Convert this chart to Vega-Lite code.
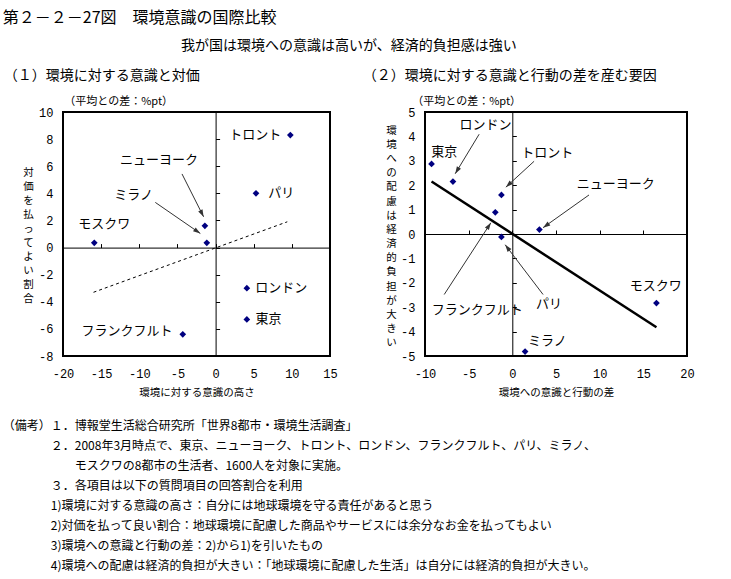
{
  "$schema": "https://vega.github.io/schema/vega-lite/v6.json",
  "padding": {"left": 2, "top": 10, "right": 5, "bottom": 2},
  "title": {"text": "第２－２－27図　環境意識の国際比較", "anchor": "start", "frame": "bounds", "fontSize": 16, "offset": 13},
  "datasets": {
    "left": [
      {"city": "トロント", "awareness": 9.8, "pay": 8.3},
      {"city": "パリ", "awareness": 5.3, "pay": 4.0},
      {"city": "ニューヨーク", "awareness": -1.4, "pay": 1.6},
      {"city": "ミラノ", "awareness": -1.15, "pay": 0.35},
      {"city": "モスクワ", "awareness": -15.9, "pay": 0.35},
      {"city": "ロンドン", "awareness": 4.1, "pay": -3.0},
      {"city": "東京", "awareness": 4.1, "pay": -5.3},
      {"city": "フランクフルト", "awareness": -4.3, "pay": -6.4}
    ],
    "leftLabels": [
      {"city": "トロント", "lx": 5.2, "ly": 8.3},
      {"city": "パリ", "lx": 8.6, "ly": 4.0},
      {"city": "ニューヨーク", "lx": -7.4, "ly": 6.47},
      {"city": "ミラノ", "lx": -10.75, "ly": 3.87},
      {"city": "モスクワ", "lx": -14.6, "ly": 1.73},
      {"city": "ロンドン", "lx": 8.6, "ly": -3.0},
      {"city": "東京", "lx": 6.95, "ly": -5.3},
      {"city": "フランクフルト", "lx": -11.6, "ly": -6.18}
    ],
    "leftArrows": [
      {"city": "ニューヨーク", "x1": -4.4, "y1": 5.43, "x2": -1.57, "y2": 2.27},
      {"city": "ミラノ", "x1": -7.9, "y1": 3.33, "x2": -2.0, "y2": 1.04}
    ],
    "leftFit": [
      {"awareness": -16.0, "pay": -3.3},
      {"awareness": 9.4, "pay": 1.9}
    ],
    "right": [
      {"city": "東京", "gap": -9.25, "burden": 2.87},
      {"city": "ロンドン", "gap": -6.8, "burden": 2.15},
      {"city": "トロント", "gap": -1.25, "burden": 1.6},
      {"city": "フランクフルト", "gap": -1.95, "burden": 0.89},
      {"city": "パリ", "gap": -1.25, "burden": -0.12},
      {"city": "ニューヨーク", "gap": 3.1, "burden": 0.18},
      {"city": "モスクワ", "gap": 16.5, "burden": -2.83},
      {"city": "ミラノ", "gap": 1.46, "burden": -4.82}
    ],
    "rightLabels": [
      {"city": "ロンドン", "lx": -3.07, "ly": 4.48},
      {"city": "東京", "lx": -7.8, "ly": 3.37},
      {"city": "トロント", "lx": 4.0, "ly": 3.34},
      {"city": "ニューヨーク", "lx": 11.83, "ly": 2.05},
      {"city": "モスクワ", "lx": 16.43, "ly": -2.12},
      {"city": "フランクフルト", "lx": -4.02, "ly": -3.13},
      {"city": "パリ", "lx": 4.2, "ly": -2.85},
      {"city": "ミラノ", "lx": 4.0, "ly": -4.38}
    ],
    "rightArrows": [
      {"city": "ロンドン", "x1": -3.8, "y1": 4.09, "x2": -6.54, "y2": 2.47},
      {"city": "トロント", "x1": 2.49, "y1": 2.98, "x2": -0.74, "y2": 1.92},
      {"city": "ニューヨーク", "x1": 8.78, "y1": 1.6, "x2": 3.52, "y2": 0.26},
      {"city": "フランクフルト", "x1": -7.8, "y1": -2.48, "x2": -2.46, "y2": 0.46},
      {"city": "パリ", "x1": 3.52, "y1": -2.48, "x2": -0.82, "y2": -0.44}
    ],
    "rightFit": [
      {"gap": -9.25, "burden": 2.15},
      {"gap": 16.5, "burden": -3.82}
    ]
  },
  "vconcat": [
    {
      "title": {
        "text": [
          "（備考）１．博報堂生活総合研究所「世界8都市・環境生活調査」",
          "\u200b　　　　２．2008年3月時点で、東京、ニューヨーク、トロント、ロンドン、フランクフルト、パリ、ミラノ、",
          "\u200b　　　　　　モスクワの8都市の生活者、1600人を対象に実施。",
          "\u200b　　　　３．各項目は以下の質問項目の回答割合を利用",
          "\u200b　　　　1)環境に対する意識の高さ：自分には地球環境を守る責任があると思う",
          "\u200b　　　　2)対価を払って良い割合：地球環境に配慮した商品やサービスには余分なお金を払ってもよい",
          "\u200b　　　　3)環境への意識と行動の差：2)から1)を引いたもの",
          "\u200b　　　　4)環境への配慮は経済的負担が大きい：「地球環境に配慮した生活」は自分には経済的負担が大きい。"
        ],
        "orient": "bottom", "anchor": "start", "frame": "bounds", "fontSize": 12, "lineHeight": 20, "offset": 22
      },
      "vconcat": [
        {
          "title": {"text": "我が国は環境への意識は高いが、経済的負担感は強い", "anchor": "middle", "fontSize": 14, "offset": 15},
          "spacing": 22,
          "hconcat": [
            {
              "width": 267, "height": 244,
              "title": {"text": "（１）環境に対する意識と対価", "subtitle": "\u200b　　　　　　（平均との差：%pt）", "anchor": "start", "frame": "bounds", "dx": -19, "fontSize": 14, "subtitleFontSize": 11, "subtitlePadding": 13, "offset": -1},
              "resolve": {"axis": {"x": "independent", "y": "independent"}},
              "layer": [
                {
                  "data": {"name": "leftFit"},
                  "mark": {"type": "line", "color": "black", "strokeWidth": 1, "strokeDash": [3, 3]},
                  "encoding": {
                    "x": {"field": "awareness", "type": "quantitative", "scale": {"domain": [-20, 15], "nice": false, "zero": false},
                      "axis": {"orient": "top", "offset": -135.6, "domain": true, "domainColor": "black", "domainWidth": 1, "ticks": true, "tickSize": 4, "tickColor": "black", "labels": false, "title": null, "values": [-20, -15, -10, -5, 0, 5, 10, 15]}},
                    "y": {"field": "pay", "type": "quantitative", "scale": {"domain": [-8, 10], "nice": false, "zero": false},
                      "axis": {"orient": "right", "offset": -114.4, "domain": true, "domainColor": "black", "domainWidth": 1, "ticks": true, "tickSize": 4, "tickColor": "black", "labels": false, "title": null, "values": [-8, -6, -4, -2, 0, 2, 4, 6, 8, 10]}}
                  }
                },
                {
                  "data": {"name": "leftArrows"},
                  "mark": {"type": "rule", "color": "#333333", "strokeWidth": 1},
                  "encoding": {
                    "x": {"field": "x1", "type": "quantitative", "scale": {"domain": [-20, 15], "nice": false, "zero": false}, "axis": null},
                    "y": {"field": "y1", "type": "quantitative", "scale": {"domain": [-8, 10], "nice": false, "zero": false}, "axis": null},
                    "x2": {"field": "x2"},
                    "y2": {"field": "y2"}
                  }
                },
                {
                  "data": {"name": "leftArrows"},
                  "transform": [{"calculate": "atan2((datum.x2 - datum.x1) * 7.629, (datum.y2 - datum.y1) * 13.556) * 180 / PI", "as": "ang"}],
                  "mark": {"type": "point", "shape": "M0,0L0.6,1.8L-0.6,1.8Z", "filled": true, "color": "#333333", "size": 64, "opacity": 1},
                  "encoding": {
                    "x": {"field": "x2", "type": "quantitative", "scale": {"domain": [-20, 15], "nice": false, "zero": false}, "axis": null},
                    "y": {"field": "y2", "type": "quantitative", "scale": {"domain": [-8, 10], "nice": false, "zero": false}, "axis": null},
                    "angle": {"field": "ang", "type": "quantitative", "scale": null}
                  }
                },
                {
                  "data": {"name": "left"},
                  "mark": {"type": "point", "shape": "diamond", "filled": true, "color": "#000080", "size": 45, "opacity": 1},
                  "encoding": {
                    "x": {"field": "awareness", "type": "quantitative", "scale": {"domain": [-20, 15], "nice": false, "zero": false},
                      "axis": {"orient": "bottom", "title": "環境に対する意識の高さ", "values": [-20, -15, -10, -5, 0, 5, 10, 15], "labelExpr": "'' + datum.value", "labelPadding": 12, "titlePadding": 8}},
                    "y": {"field": "pay", "type": "quantitative", "scale": {"domain": [-8, 10], "nice": false, "zero": false},
                      "axis": {"orient": "left", "title": ["対", "価", "を", "払", "っ", "て", "よ", "い", "割", "合"], "titleAngle": 0, "titleX": -35, "titleY": 60, "titleAlign": "center", "titleBaseline": "middle", "titleLineHeight": 14, "values": [-8, -6, -4, -2, 0, 2, 4, 6, 8, 10], "labelExpr": "'' + datum.value"}},
                    "tooltip": {"field": "city"}
                  }
                },
                {
                  "data": {"name": "leftLabels"},
                  "mark": {"type": "text", "fontSize": 13, "align": "center", "baseline": "middle", "color": "black"},
                  "encoding": {
                    "x": {"field": "lx", "type": "quantitative", "scale": {"domain": [-20, 15], "nice": false, "zero": false}, "axis": null},
                    "y": {"field": "ly", "type": "quantitative", "scale": {"domain": [-8, 10], "nice": false, "zero": false}, "axis": null},
                    "text": {"field": "city"}
                  }
                }
              ]
            },
            {
              "width": 262, "height": 244,
              "title": {"text": "（２）環境に対する意識と行動の差を産む要因", "subtitle": "\u200b　　　　　（平均との差：%pt）", "anchor": "start", "frame": "bounds", "dx": -23, "fontSize": 14, "subtitleFontSize": 11, "subtitlePadding": 13, "offset": -1},
              "resolve": {"axis": {"x": "independent", "y": "independent"}},
              "layer": [
                {
                  "data": {"name": "rightFit"},
                  "mark": {"type": "line", "color": "black", "strokeWidth": 2.5},
                  "encoding": {
                    "x": {"field": "gap", "type": "quantitative", "scale": {"domain": [-10, 20], "nice": false, "zero": false},
                      "axis": {"orient": "top", "offset": -122, "domain": true, "domainColor": "black", "domainWidth": 1, "ticks": true, "tickSize": 4, "tickColor": "black", "labels": false, "title": null, "values": [-10, -5, 0, 5, 10, 15, 20]}},
                    "y": {"field": "burden", "type": "quantitative", "scale": {"domain": [-5, 5], "nice": false, "zero": false},
                      "axis": {"orient": "right", "offset": -174.7, "domain": true, "domainColor": "black", "domainWidth": 1, "ticks": true, "tickSize": 4, "tickColor": "black", "labels": false, "title": null, "values": [-5, -4, -3, -2, -1, 0, 1, 2, 3, 4, 5]}}
                  }
                },
                {
                  "data": {"name": "rightArrows"},
                  "mark": {"type": "rule", "color": "#333333", "strokeWidth": 1},
                  "encoding": {
                    "x": {"field": "x1", "type": "quantitative", "scale": {"domain": [-10, 20], "nice": false, "zero": false}, "axis": null},
                    "y": {"field": "y1", "type": "quantitative", "scale": {"domain": [-5, 5], "nice": false, "zero": false}, "axis": null},
                    "x2": {"field": "x2"},
                    "y2": {"field": "y2"}
                  }
                },
                {
                  "data": {"name": "rightArrows"},
                  "transform": [{"calculate": "atan2((datum.x2 - datum.x1) * 8.733, (datum.y2 - datum.y1) * 24.4) * 180 / PI", "as": "ang"}],
                  "mark": {"type": "point", "shape": "M0,0L0.6,1.8L-0.6,1.8Z", "filled": true, "color": "#333333", "size": 64, "opacity": 1},
                  "encoding": {
                    "x": {"field": "x2", "type": "quantitative", "scale": {"domain": [-10, 20], "nice": false, "zero": false}, "axis": null},
                    "y": {"field": "y2", "type": "quantitative", "scale": {"domain": [-5, 5], "nice": false, "zero": false}, "axis": null},
                    "angle": {"field": "ang", "type": "quantitative", "scale": null}
                  }
                },
                {
                  "data": {"name": "right"},
                  "mark": {"type": "point", "shape": "diamond", "filled": true, "color": "#000080", "size": 45, "opacity": 1},
                  "encoding": {
                    "x": {"field": "gap", "type": "quantitative", "scale": {"domain": [-10, 20], "nice": false, "zero": false},
                      "axis": {"orient": "bottom", "title": "環境への意識と行動の差", "values": [-10, -5, 0, 5, 10, 15, 20], "labelExpr": "'' + datum.value", "labelPadding": 12, "titlePadding": 8}},
                    "y": {"field": "burden", "type": "quantitative", "scale": {"domain": [-5, 5], "nice": false, "zero": false},
                      "axis": {"orient": "left", "title": ["環", "境", "へ", "の", "配", "慮", "は", "経", "済", "的", "負", "担", "が", "大", "き", "い"], "titleAngle": 0, "titleX": -34, "titleY": 18, "titleAlign": "center", "titleBaseline": "middle", "titleLineHeight": 14.2, "values": [-5, -4, -3, -2, -1, 0, 1, 2, 3, 4, 5], "labelExpr": "'' + datum.value"}},
                    "tooltip": {"field": "city"}
                  }
                },
                {
                  "data": {"name": "rightLabels"},
                  "mark": {"type": "text", "fontSize": 13, "align": "center", "baseline": "middle", "color": "black"},
                  "encoding": {
                    "x": {"field": "lx", "type": "quantitative", "scale": {"domain": [-10, 20], "nice": false, "zero": false}, "axis": null},
                    "y": {"field": "ly", "type": "quantitative", "scale": {"domain": [-5, 5], "nice": false, "zero": false}, "axis": null},
                    "text": {"field": "city"}
                  }
                }
              ]
            }
          ]
        }
      ]
    }
  ],
  "config": {
    "font": "Noto Sans CJK JP",
    "background": "white",
    "view": {"stroke": "black", "strokeWidth": 2},
    "title": {"fontWeight": "normal", "color": "black", "subtitleColor": "black", "subtitleFont": "Noto Sans CJK JP", "font": "Noto Sans CJK JP"},
    "axis": {
      "grid": false, "ticks": false, "tickSize": 0, "domain": false, "labelFlush": false, "labelOverlap": false,
      "labelFont": "Liberation Mono", "labelFontSize": 12, "labelColor": "black", "labelPadding": 10,
      "titleFont": "Noto Sans CJK JP", "titleFontSize": 10.5, "titleFontWeight": "normal", "titleColor": "black", "titlePadding": 5
    }
  }
}
